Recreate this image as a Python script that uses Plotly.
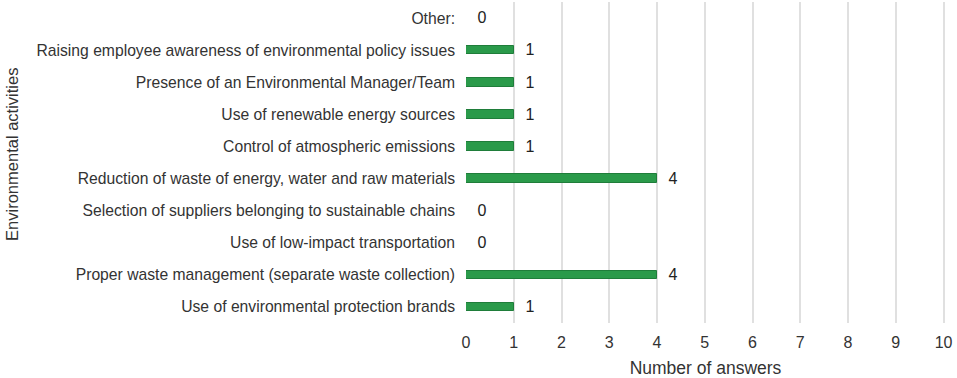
import plotly.graph_objects as go

categories = [
    "Other:",
    "Raising employee awareness of environmental policy issues",
    "Presence of an Environmental Manager/Team",
    "Use of renewable energy sources",
    "Control of atmospheric emissions",
    "Reduction of waste of energy, water and raw materials",
    "Selection of suppliers belonging to sustainable chains",
    "Use of low-impact transportation",
    "Proper waste management (separate waste collection)",
    "Use of environmental protection brands",
]
answers = [0, 1, 1, 1, 1, 4, 0, 0, 4, 1]
x_ticks = list(range(0, 11))

FONT = "Liberation Sans, Arial, sans-serif"

fig = go.Figure(
    go.Bar(
        y=categories,
        x=answers,
        orientation="h",
        width=0.27,
        marker=dict(color="#2a9a4a", line=dict(color="#1f7d3a", width=1)),
        text=["\u00a0\u00a0" + str(v) for v in answers],
        textposition="outside",
        constraintext="none",
        textfont=dict(family=FONT, size=16, color="#222222"),
        cliponaxis=False,
    )
)

fig.update_layout(
    width=957,
    height=378,
    margin=dict(l=466, r=12, t=2, b=55, autoexpand=False),
    paper_bgcolor="white",
    plot_bgcolor="white",
    font=dict(family=FONT, color="#333333"),
    showlegend=False,
    bargap=0,
    xaxis=dict(
        range=[0, 10.03],
        tickvals=x_ticks,
        ticktext=[str(t) for t in x_ticks],
        showgrid=True,
        gridcolor="#e0e0e0",
        gridwidth=1.5,
        zeroline=False,
        showline=False,
        ticks="",
        ticklabelstandoff=8,
        tickfont=dict(size=16, color="#333333"),
        title=dict(text="Number of answers", font=dict(size=17.5, color="#333333"), standoff=12),
        automargin=False,
    ),
    yaxis=dict(
        categoryorder="array",
        categoryarray=categories,
        autorange="reversed",
        showgrid=False,
        zeroline=False,
        showline=False,
        ticks="",
        ticklabelstandoff=10,
        tickfont=dict(size=15.7, color="#333333"),
        automargin=False,
    ),
    annotations=[
        dict(
            text="Environmental activities",
            textangle=-90,
            xref="paper",
            yref="paper",
            x=-0.948,
            y=0.5265,
            xanchor="center",
            yanchor="middle",
            showarrow=False,
            font=dict(family=FONT, size=16.5, color="#333333"),
        )
    ],
)

fig.write_html(
    "out.html",
    config={"displayModeBar": False},
    post_script="document.body.style.margin='0px';",
)
